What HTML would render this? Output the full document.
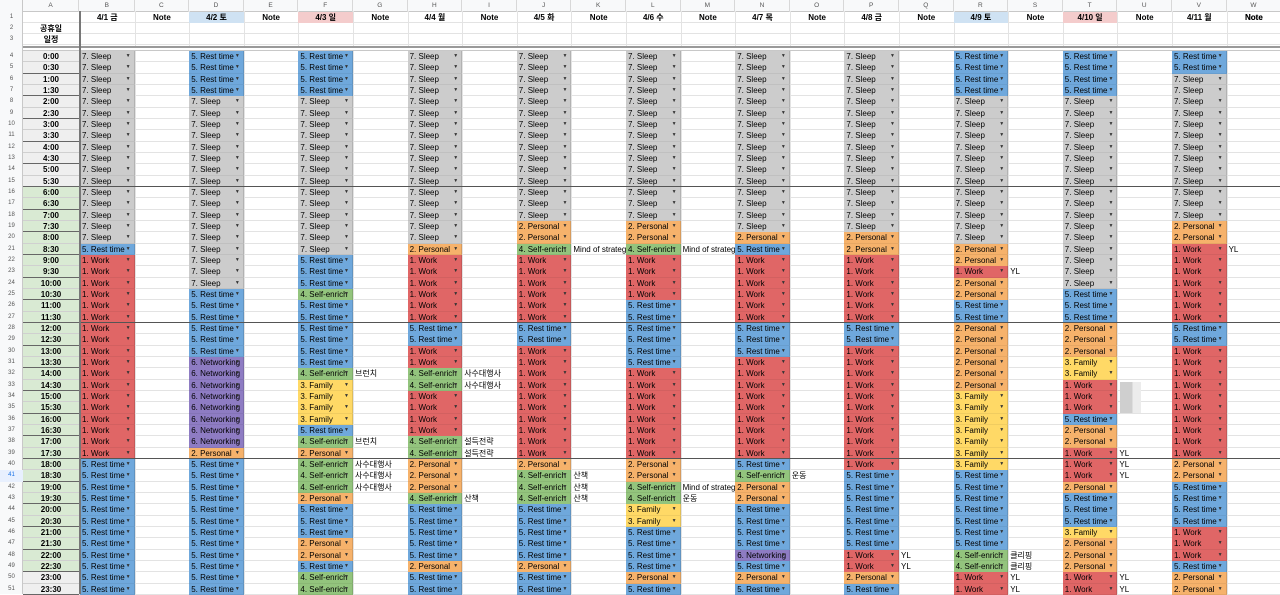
<!DOCTYPE html>
<html><head><meta charset="utf-8">
<style>
body{margin:0;width:1280px;height:594px;overflow:hidden;background:#fff;font-family:"Liberation Sans","Noto Sans CJK KR",sans-serif;position:relative}
.c{position:absolute;box-sizing:border-box;white-space:nowrap;overflow:hidden;font-size:8px;line-height:11px}
.gl{position:absolute;background:#e3e3e3}
.dd{position:absolute;right:3px;top:0;font-size:5px;color:#333;line-height:11px}
</style></head><body>
<div id="sheet"></div>
<script>
const days=["4/1 금","4/2 토","4/3 일","4/4 월","4/5 화","4/6 수","4/7 목","4/8 금","4/9 토","4/10 일","4/11 월"];
const dayHeaderFill=["","#cfe2f3","#f4cccc","","","","","","#cfe2f3","#f4cccc",""];
const letters=["A","B","C","D","E","F","G","H","I","J","K","L","M","N","O","P","Q","R","S","T","U","V","W"];
const cats={S:["7. Sleep","#cccccc"],R:["5. Rest time","#6fa8dc"],W:["1. Work","#e06666"],P:["2. Personal","#f6b26b"],E:["4. Self-enrich","#93c47d"],F:["3. Family","#ffd966"],N:["6. Networking","#8e7cc3"]};
const sched=[
"SSSSSSSSSSSSSSSSSRWWWWWWWWWWWWWWWWWWRRRRRRRRRRRR",
"RRRRSSSSSSSSSSSSSSSSSRRRRRRNNNNNNNNPRRRRRRRRRRRR",
"RRRRSSSSSSSSSSSSSSRRRERRRRRREFFFFREPEEEPRRRPPREE",
"SSSSSSSSSSSSSSSSSPWWWWWWRRWWEEWWWWEEPPPERRRRRPRR",
"SSSSSSSSSSSSSSSPPEWWWWWWRRWWWWWWWWWWPEEERRRRRPRR",
"SSSSSSSSSSSSSSSPPEWWWWRRRRRRWWWWWWWWPPEEFFRRRRPR",
"SSSSSSSSSSSSSSSSPRWWWWWWRRRWWWWWWWWWREPPRRRRNRPR",
"SSSSSSSSSSSSSSSSPPWWWWWWRRWWWWWWWWWWWRRRRRRRWWPR",
"RRRRSSSSSSSSSSSSSPPWPPRRPPPPPPFFFFFFFRRRRRRREEWW",
"RRRRSSSSSSSSSSSSSSSSSRRRPPPFFWWWRPPWWWPRRRFPPPWW",
"RRSSSSSSSSSSSSSPPWWWWWWWRRWWWWWWWWWWPPRRRRWWWRPP"];
// notes: [dayIndex whose note column it is, row, text]
const notes=[[2,32,"브런치"],[2,38,"브런치"],[2,40,"사수대행사"],[2,41,"사수대행사"],[2,42,"사수대행사"],
[3,32,"사수대행사"],[3,33,"사수대행사"],[3,38,"설득전략"],[3,39,"설득전략"],[3,43,"산책"],
[4,21,"Mind of strategist"],[4,41,"산책"],[4,42,"산책"],[4,43,"산책"],
[5,21,"Mind of strategist"],[5,42,"Mind of strategist"],[5,43,"운동"],[6,41,"운동"],
[7,48,"YL"],[7,49,"YL"],[8,23,"YL"],[8,48,"클리핑"],[8,49,"클리핑"],[8,50,"YL"],[8,51,"YL"],
[9,39,"YL"],[9,40,"YL"],[9,41,"YL"],[9,50,"YL"],[9,51,"YL"],[10,21,"YL"]];
const sh=document.getElementById('sheet');
const CW=54.6,X0=80,RH=11.33,Y4=51;
function colX(k){return k===0?23:X0+CW*(k-1);}
function colW(k){return k===0?56:CW;}
function rowY(r){return r<=3?11.5+(r-1)*11.3:Y4+(r-4)*RH;}
function mk(x,y,w,h,css,txt,name,inter){const d=document.createElement('div');d.className='c';d.style.cssText=`left:${x}px;top:${y}px;width:${w}px;height:${h}px;`+css;if(txt!=null)d.textContent=txt;


sh.appendChild(d);return d;}
mk(0,0,1280,11.5,"background:#f8f9fa;border-bottom:1px solid #c8c8c8",null,'column-header-bar',false);
mk(0,0,23,594,"background:#f8f9fa;border-right:1px solid #c8c8c8",null,'row-header-bar',false);
for(let k=0;k<letters.length;k++){mk(colX(k),0,colW(k),11.5,"text-align:center;font-size:6.5px;color:#555;line-height:11px;border-right:1px solid #d8d8d8",letters[k],'column-letter-'+letters[k],true);}
for(let k=1;k<=23;k++){const g=document.createElement('div');g.className='gl';g.style.cssText=`left:${colX(k)}px;top:11px;width:1px;height:583px`;


sh.appendChild(g);}
const rows=[1,2,3];for(let r=4;r<=51;r++)rows.push(r);
rows.forEach(r=>{const y=rowY(r),h=r<=3?11.3:RH;
 const g=document.createElement('div');g.className='gl';g.style.cssText=`left:23px;top:${y+h-1}px;width:1257px;height:1px`;
 
 
 sh.appendChild(g);
 mk(0,y,23,h,`text-align:center;font-size:6px;color:#555;line-height:${h}px`+(r===41?";color:#1a73e8;background:#e8f0fe":""),String(r),'row-number-'+r,true);
});
mk(23,46,1257,5,"background:#fff;border-top:2px solid #9a9a9a;border-bottom:1px solid #c8c8c8",null,'frozen-separator',false);
mk(colX(0),rowY(1),56,11.3,"",null,'corner-cell',false);
days.forEach((d,i)=>{
 mk(colX(1+2*i),rowY(1),CW,11.3,`text-align:center;font-weight:bold;background:${dayHeaderFill[i]||'transparent'}`,d,'day-header-'+(i+1),true);
 mk(colX(2+2*i),rowY(1),CW,11.3,"text-align:center;font-weight:bold","Note",'note-header-'+(i+1),true);
});
mk(colX(22),rowY(1),CW,11.3,"text-align:center;font-weight:bold","Note",'note-header-last',true);
mk(23,rowY(2),56,11.3,"text-align:center;font-weight:bold","공휴일",'holiday-label',false);
mk(23,rowY(3),56,11.3,"text-align:center;font-weight:bold","일정",'schedule-label',false);
for(let r=4;r<=51;r++){const i=r-4;const t=Math.floor(i/2)+":"+(i%2?"30":"00");
 const bg=(r<=15||r>=50)?"#efefef":"#d9ead3";
 mk(23,rowY(r),56,RH,`background:${bg};text-align:center;font-weight:bold;border-bottom:1px solid ${i%2?'#666':'#d0d0d0'};line-height:${RH}px`,t,'time-'+t,false);}
sched.forEach((s,i)=>{for(let j=0;j<48;j++){const c=cats[s[j]];const r=j+4;
 const d=mk(colX(1+2*i),rowY(r),CW,RH+0.5,`background:${c[1]};padding-left:2px;padding-right:10px;line-height:${RH}px;border-right:1px solid rgba(0,0,0,0.12);border-bottom:1px solid rgba(0,0,0,0.06)`,c[0],'activity-cell',true);
 const a=document.createElement('span');a.className='dd';a.textContent='▼';
 
 
 d.appendChild(a);}});
notes.forEach(n=>{mk(colX(2+2*n[0]),rowY(n[1]),CW,RH,`padding-left:2px;line-height:${RH}px`,n[2],'note-cell',true);});
[15,27,39].forEach(r=>{mk(80,rowY(r)+RH-1,1200,1.5,"background:#555",null,'block-separator',false);});
mk(79,11,1.6,583,"background:#777",null,'frozen-column-line',false);
mk(1120,382,21,31,"background:linear-gradient(90deg,#cfcfcf 60%,#ececec 60%)",null,'redacted-box',false);
</script>
</body></html>
